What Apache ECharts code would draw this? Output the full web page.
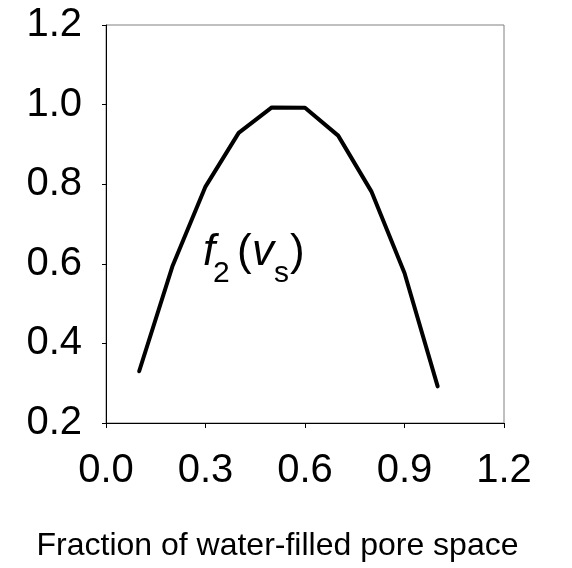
<!DOCTYPE html>
<html>
<head>
<meta charset="utf-8">
<script src="https://cdn.jsdelivr.net/npm/echarts@6/dist/echarts.min.js"></script>
<style>
html,body{margin:0;padding:0;background:#fff;}
#chart{width:572px;height:568px;}
</style>
</head>
<body>
<div id="chart"></div>
<script>
const xValues = [0.1, 0.2, 0.3, 0.4, 0.5, 0.6, 0.7, 0.8, 0.9, 1.0];
const yValues = [0.33, 0.593, 0.794, 0.929, 0.993, 0.992, 0.922, 0.782, 0.577, 0.292];
const xTicks = [0.0, 0.3, 0.6, 0.9, 1.2];
const yTicks = [0.2, 0.4, 0.6, 0.8, 1.0, 1.2];
const xTitle = 'Fraction of water-filled pore space';

const FONT = '"Liberation Sans", Arial, sans-serif';
const chart = echarts.init(document.getElementById('chart'), null, {renderer: 'canvas'});
const seriesData = xValues.map((x, i) => [x, yValues[i]]);

chart.setOption({
  backgroundColor: '#fff',
  animation: false,
  grid: {left: 106, right: 68, top: 25, bottom: 145, show: true, borderColor: '#808080', borderWidth: 1},
  xAxis: {
    type: 'value', min: xTicks[0], max: xTicks[xTicks.length - 1], interval: 0.3,
    axisLine: {show: true, lineStyle: {color: '#000', width: 1}},
    axisTick: {show: true, length: 5, lineStyle: {color: '#000'}},
    splitLine: {show: false},
    axisLabel: {fontFamily: FONT, fontSize: 40, color: '#000', margin: 28,
      formatter: v => v.toFixed(1)},
    name: xTitle, nameLocation: 'middle', nameGap: 107,
    nameTextStyle: {fontFamily: FONT, fontSize: 32, color: '#000', padding: [0, 55, 0, 0]}
  },
  yAxis: {
    type: 'value', min: yTicks[0], max: yTicks[yTicks.length - 1], interval: 0.2,
    axisLine: {show: true, lineStyle: {color: '#000', width: 1}},
    axisTick: {show: true, length: 4, lineStyle: {color: '#000'}},
    splitLine: {show: false},
    axisLabel: {fontFamily: FONT, fontSize: 40, color: '#000', margin: 24,
      formatter: v => v.toFixed(1)}
  },
  series: [{
    type: 'line', data: seriesData, symbol: 'none',
    lineStyle: {color: '#000', width: 4, cap: 'round', join: 'round'}
  }],
  graphic: [
    {type: 'text', left: 203, top: 231, style: {text: 'f', font: 'italic 44px ' + FONT, fill: '#000'}},
    {type: 'text', left: 213, top: 259, style: {text: '2', font: '30px ' + FONT, fill: '#000'}},
    {type: 'text', left: 237, top: 231, style: {text: '(', font: '44px ' + FONT, fill: '#000'}},
    {type: 'text', left: 252, top: 231, style: {text: 'v', font: 'italic 44px ' + FONT, fill: '#000'}},
    {type: 'text', left: 274, top: 259, style: {text: 's', font: '30px ' + FONT, fill: '#000'}},
    {type: 'text', left: 290, top: 231, style: {text: ')', font: '44px ' + FONT, fill: '#000'}}
  ]
});
</script>
</body>
</html>
